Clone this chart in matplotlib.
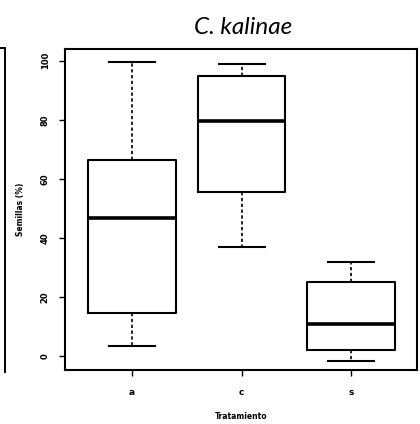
import matplotlib
matplotlib.use("Agg")
import matplotlib.pyplot as plt
from matplotlib.lines import Line2D

# germination (%) per treatment
tratamientos = ["a", "c", "s"]
whislo = [3.4, 37.0, -1.7]
q1 = [14.6, 55.6, 2.0]
med = [46.8, 79.5, 10.8]
q3 = [66.4, 95.0, 25.0]
whishi = [99.5, 99.0, 32.0]
yticks = [0, 20, 40, 60, 80, 100]

stats = []
for i, t in enumerate(tratamientos):
    stats.append({"label": t, "whislo": whislo[i], "q1": q1[i], "med": med[i],
                  "q3": q3[i], "whishi": whishi[i], "fliers": []})

fig = plt.figure(figsize=(4.2, 4.24), dpi=100)
ax = fig.add_axes([65 / 420, 1 - 370 / 424, 352 / 420, 321 / 424])

ax.bxp(stats, positions=[1, 2, 3], widths=0.8, showfliers=False,
       boxprops=dict(color="black", linewidth=1.5),
       medianprops=dict(color="black", linewidth=2.6),
       whiskerprops=dict(color="black", linewidth=1.2, linestyle=(0, (2, 1.5))),
       capprops=dict(color="black", linewidth=1.5),
       capwidths=0.42)

ax.set_xlim(0.39, 3.6)
ax.set_ylim(-4.7, 104)
for s in ax.spines.values():
    s.set_linewidth(1.5)

ax.set_yticks(yticks)
ax.set_yticklabels([str(v) for v in yticks], rotation=90, va="center",
                   fontsize=6, fontweight="bold")
ax.set_xticks([1, 2, 3])
ax.set_xticklabels(tratamientos, fontsize=6.5, fontweight="bold")
ax.tick_params(axis="both", length=4, width=1.0, color="black")
ax.tick_params(axis="x", pad=9)
ax.tick_params(axis="y", pad=7)

ax.set_ylabel("Semillas (%)", fontsize=5.5, fontweight="bold", labelpad=11)
ax.set_xlabel("Tratamiento", fontsize=5.5, fontweight="bold", labelpad=11)

fig.text(243 / 420, 1 - 27 / 424, "C. kalinae", fontsize=17.5, style="italic",
         family="Lato", ha="center", va="center")

# edge of the neighbouring panel
fig.add_artist(Line2D([5 / 420, 5 / 420], [1 - 48 / 424, 1 - 372 / 424],
                      color="black", linewidth=1.4, transform=fig.transFigure))
fig.add_artist(Line2D([0, 5 / 420], [1 - 48 / 424, 1 - 48 / 424],
                      color="black", linewidth=1.4, transform=fig.transFigure))

fig.savefig("out.png", dpi=100)
